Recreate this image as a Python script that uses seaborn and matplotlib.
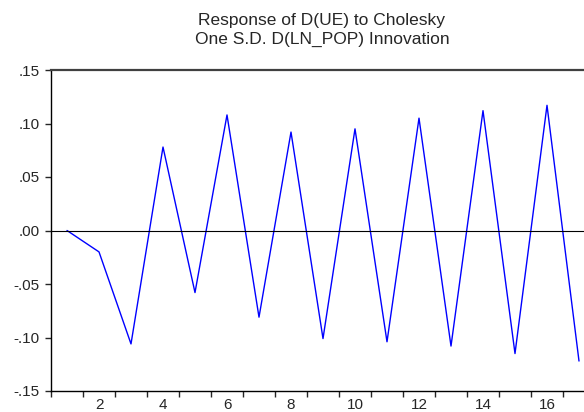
import matplotlib
matplotlib.use("Agg")
import matplotlib.pyplot as plt
from matplotlib.ticker import FuncFormatter, FixedLocator
import seaborn as sns
import pandas as pd
import numpy as np

periods = list(range(1, 18))
response = [0.000, -0.020, -0.106, 0.078, -0.058, 0.108, -0.081, 0.092, -0.101,
            0.095, -0.104, 0.105, -0.108, 0.112, -0.115, 0.117, -0.122]
y_ticks = [-0.15, -0.10, -0.05, 0.00, 0.05, 0.10, 0.15]
x_labels = [2, 4, 6, 8, 10, 12, 14, 16]

sns.set_style("ticks")
plt.rcParams['font.family'] = ['Liberation Sans', 'DejaVu Sans']

df = pd.DataFrame({'period': periods, 'response': response})

fig = plt.figure(figsize=(5.84, 4.12), dpi=100)
ax = fig.add_axes([51 / 584, 1 - 391 / 412, 544 / 584, 321 / 412])

sns.lineplot(data=df, x='period', y='response', color='#0000ff', linewidth=1.0, ax=ax)
ax.axhline(0, color='black', linewidth=0.8)

ax.set_xlim(0.5, 17.5)
ax.set_ylim(-0.15, 0.15)
ax.set_xlabel('')
ax.set_ylabel('')

# y axis
ax.set_yticks(y_ticks)
def fmt(v, pos):
    if abs(v) < 1e-9:
        return '.00'
    return ('%.2f' % v).replace('0.', '.')
ax.yaxis.set_major_formatter(FuncFormatter(fmt))
ax.tick_params(axis='y', direction='out', length=4.5, width=1, labelsize=11, pad=3.5)

# x axis: labels in slot centers, ticks at slot boundaries
ax.xaxis.set_major_locator(FixedLocator(x_labels))
ax.xaxis.set_minor_locator(FixedLocator(np.arange(0.5, 18, 1.0)))
ax.tick_params(axis='x', which='major', length=0, labelsize=11, pad=5)
ax.tick_params(axis='x', which='minor', direction='out', length=4.5, width=1)

for s in ['left', 'bottom']:
    ax.spines[s].set_color('black')
    ax.spines[s].set_linewidth(1.0)
ax.spines['top'].set_visible(True)
ax.spines['top'].set_color('#404040')
ax.spines['top'].set_linewidth(1.6)
ax.spines['right'].set_visible(False)

fig.text(322 / 584, 1 - 25 / 412, 'Response of D(UE) to Cholesky', ha='center', va='baseline', fontsize=12.5)
fig.text(322 / 584, 1 - 43.5 / 412, 'One S.D. D(LN_POP) Innovation', ha='center', va='baseline', fontsize=12.5)

fig.savefig('out.png', dpi=100)
